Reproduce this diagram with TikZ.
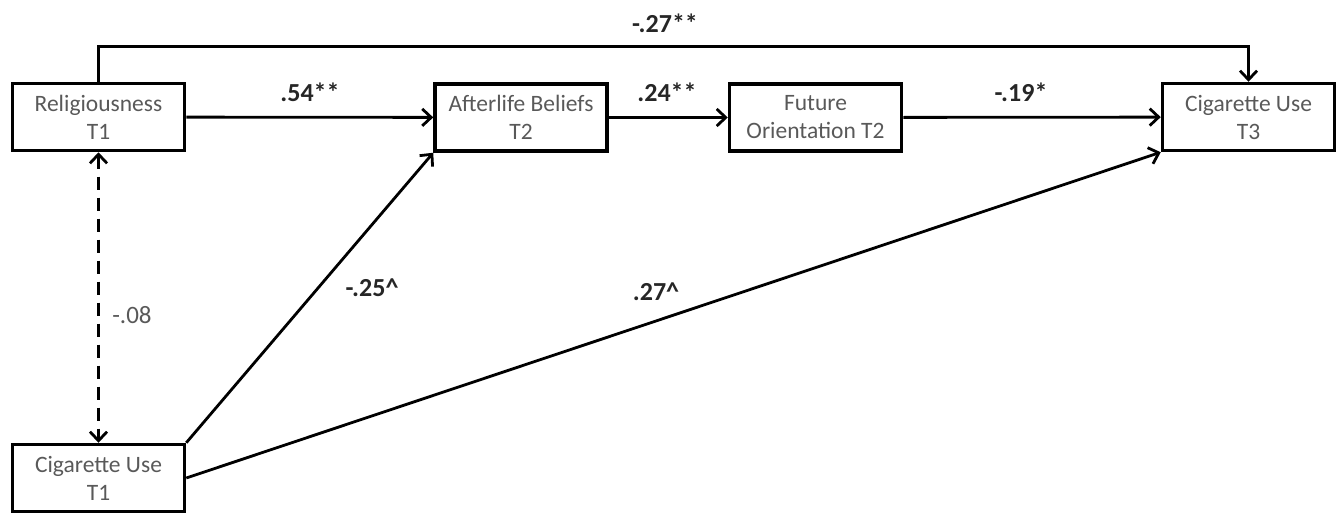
\documentclass[tikz,border=0pt]{standalone}
\usepackage{fontspec}
\setmainfont{Carlito}
\usetikzlibrary{arrows.meta}
\begin{document}
\begin{tikzpicture}[x=1pt,y=-1pt,
  var/.style={draw, line width=3.5pt, inner xsep=1pt, minimum width=172pt, minimum height=67pt, align=center, text=black!65, font=\fontsize{23.5}{28}\selectfont},
  link/.style={line width=2.8pt, -{Straight Barb[length=9pt,width=17pt]}},
  coef/.style={inner sep=0pt, text=black!85, font=\bfseries\fontsize{26}{30}\selectfont}]
\useasboundingbox (0,0) rectangle (1344,514);
\node[var] (relig) at (98.5,117) {Religiousness\\T1};
\node[var] (after) at (521,117.5) {Afterlife Beliefs\\T2};
\node[var] (future) at (815.5,117.5) {Future\\Orientation T2};
\node[var] (cig3) at (1248.5,117) {Cigarette Use\\T3};
\node[var] (cig1) at (98.5,478) {Cigarette Use\\T1};
\draw[link] (relig) -- (after);
\draw[link] (after) -- (future);
\draw[link] (future) -- (cig3);
\draw[link] (relig.north) -- ++(0,-35) -| (cig3.north);
\draw[link] (cig1.north east) -- (after.south west);
\draw[link] (cig1.east) -- (cig3.south west);
\draw[link, {Straight Barb[length=9pt,width=17pt]}-{Straight Barb[length=9pt,width=17pt]}, dash pattern=on 13pt off 8pt] (relig.south) -- (cig1.north);
\node[coef] (b1) at (665,23) {-.27**};
\node[coef] (b2) at (310,92) {.54**};
\node[coef] (b3) at (667,92) {.24**};
\node[coef] (b4) at (1021,92) {-.19*};
\node[coef] (b5) at (372,288) {-.25\textasciicircum};
\node[coef] (b6) at (656,292) {.27\textasciicircum};
\node[coef, font=\fontsize{25}{29}\selectfont, text=black!65] (r1) at (132,315) {-.08};
\end{tikzpicture}
\end{document}
